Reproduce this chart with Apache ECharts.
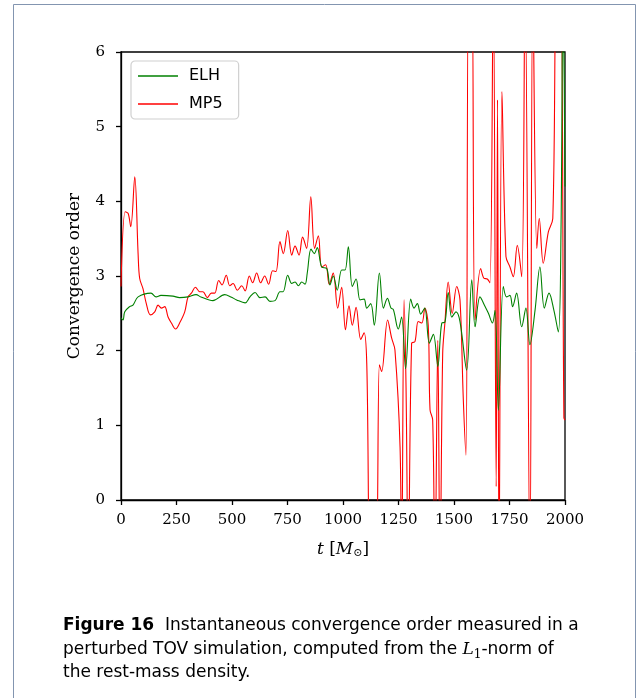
<!DOCTYPE html>
<html>
<head>
<meta charset="utf-8">
<script src="https://cdn.jsdelivr.net/npm/echarts@6/dist/echarts.min.js"></script>
<style>html,body{margin:0;padding:0;background:#fff}#c{width:638px;height:698px}</style>
</head>
<body>
<div id="c"></div>
<script>
// ---- data ----
const xTicks = [0, 250, 500, 750, 1000, 1250, 1500, 1750, 2000];
const yTicks = [0, 1, 2, 3, 4, 5, 6];
const seriesNames = ["ELH", "MP5"];

const elhT = [0, 9, 17, 39, 54, 77, 135, 158, 180, 234, 264, 302, 338, 360, 414, 467, 495, 521, 559, 581, 604, 626, 649, 671, 694, 716, 730, 751, 769, 784, 799, 814, 829, 839, 856, 871, 884, 904, 927, 941, 956, 974, 994, 1009, 1024, 1042, 1059, 1077, 1095, 1107, 1125, 1141, 1164, 1182, 1200, 1216, 1227, 1249, 1264, 1282, 1305, 1320, 1335, 1350, 1368, 1389, 1407, 1427, 1445, 1459, 1474, 1490, 1509, 1527, 1557, 1580, 1595, 1617, 1640, 1655, 1673, 1685, 1700, 1722, 1737, 1752, 1764, 1782, 1805, 1824, 1842, 1865, 1887, 1907, 1928, 1950, 1970, 1982, 1991, 2000];
const elhV = [2.44, 2.41, 2.52, 2.59, 2.61, 2.72, 2.77, 2.72, 2.74, 2.73, 2.71, 2.72, 2.75, 2.72, 2.67, 2.75, 2.72, 2.68, 2.64, 2.72, 2.78, 2.71, 2.72, 2.66, 2.67, 2.79, 2.79, 3.01, 2.90, 2.92, 2.87, 2.92, 2.89, 3.04, 3.36, 3.30, 3.38, 3.12, 3.10, 2.88, 3.00, 2.81, 3.08, 3.08, 3.39, 2.86, 2.96, 2.68, 2.69, 2.57, 2.63, 2.34, 3.04, 2.57, 2.70, 2.57, 2.55, 2.29, 2.45, 1.76, 2.69, 2.57, 2.63, 2.49, 2.57, 2.10, 2.22, 1.79, 2.37, 2.38, 2.78, 2.45, 2.52, 2.39, 1.74, 2.95, 2.32, 2.72, 2.59, 2.50, 2.37, 2.54, 1.20, 2.86, 2.72, 2.74, 2.59, 2.77, 2.32, 2.57, 2.08, 2.54, 3.12, 2.57, 2.77, 2.54, 2.25, 3.60, 7.00, 4.20];

const mp5T = [0, 19, 32, 44, 62, 77, 84, 99, 114, 132, 152, 167, 182, 197, 212, 227, 246, 264, 287, 302, 317, 335, 355, 369, 389, 407, 422, 440, 455, 474, 490, 505, 524, 544, 559, 578, 593, 611, 629, 647, 665, 683, 698, 716, 731, 751, 769, 784, 802, 818, 836, 855, 872, 889, 904, 922, 938, 956, 976, 994, 1011, 1027, 1042, 1059, 1080, 1095, 1107, 1125, 1147, 1164, 1174, 1201, 1219, 1234, 1257, 1264, 1275, 1284, 1294, 1309, 1324, 1339, 1355, 1369, 1384, 1392, 1404, 1414, 1427, 1437, 1449, 1459, 1474, 1492, 1512, 1527, 1542, 1554, 1566, 1580, 1595, 1620, 1635, 1650, 1662, 1677, 1690, 1696, 1703, 1716, 1734, 1752, 1767, 1785, 1805, 1820, 1842, 1855, 1873, 1884, 1902, 1925, 1945, 1963, 1980, 1995, 2000];
const mp5V = [2.86, 3.86, 3.84, 3.66, 4.33, 3.30, 2.97, 2.83, 2.63, 2.48, 2.52, 2.61, 2.57, 2.59, 2.45, 2.37, 2.29, 2.37, 2.52, 2.72, 2.77, 2.85, 2.79, 2.79, 2.71, 2.77, 2.77, 2.94, 2.88, 3.01, 2.87, 2.90, 2.81, 2.87, 2.80, 3.00, 2.91, 3.04, 2.91, 3.00, 2.89, 3.07, 3.06, 3.46, 3.30, 3.61, 3.28, 3.40, 3.28, 3.52, 3.37, 4.06, 3.37, 3.54, 3.12, 3.15, 2.89, 3.04, 2.57, 2.85, 2.28, 2.60, 2.34, 2.58, 2.15, 2.24, 1.83, -1.0, -1.0, 1.81, 1.72, 2.41, 2.17, 2.01, 0.71, -1.0, 2.68, 1.50, -1.0, 2.10, 2.12, 2.39, 2.37, 2.57, 2.34, 1.21, 1.07, -1.0, 2.14, -1.0, 1.96, 2.37, 2.92, 2.50, 2.86, 2.68, 1.34, 0.60, 7.00, 7.00, 2.41, 3.10, 2.97, 2.96, 2.91, 7.00, 0.18, 5.36, -1.0, 5.47, 3.26, 3.12, 2.99, 3.41, 2.99, 7.00, -1.0, 7.00, 3.37, 3.77, 3.17, 3.59, 3.77, 7.00, 7.00, 1.10, 1.07];

const toPairs = (ts, vs) => ts.map((t, i) => [t, vs[i]]);

const serif = "'DejaVu Serif', 'Liberation Serif', serif";
const sans = "'DejaVu Sans', sans-serif";

const chart = echarts.init(document.getElementById('c'), null, {renderer: 'canvas'});
chart.setOption({
  animation: false,
  backgroundColor: '#fff',
  grid: {left: 121, right: 73, top: 52, bottom: 198, show: true, borderColor: '#000', borderWidth: 1.3, backgroundColor: 'transparent'},
  xAxis: {
    type: 'value', min: xTicks[0], max: xTicks[xTicks.length - 1], interval: 250,
    axisLine: {lineStyle: {color: '#000', width: 1.3}},
    axisTick: {show: true, inside: false, length: 5, lineStyle: {color: '#000', width: 1.3}},
    axisLabel: {color: '#000', fontFamily: serif, fontSize: 15, margin: 13, formatter: v => String(v)},
    splitLine: {show: false},
    name: '{i|t} [{i|M}{s|⊙}]', nameLocation: 'middle', nameGap: 40,
    nameTextStyle: {color: '#000', fontFamily: serif, fontSize: 17,
      rich: {i: {fontStyle: 'italic', fontFamily: serif, fontSize: 17, color: '#000'},
             s: {fontFamily: serif, fontSize: 11, color: '#000', verticalAlign: 'bottom', padding: [8, 0, 0, 0]}}}
  },
  yAxis: {
    type: 'value', min: yTicks[0], max: yTicks[yTicks.length - 1], interval: 1,
    axisLine: {lineStyle: {color: '#000', width: 1.3}},
    axisTick: {show: true, inside: false, length: 5, lineStyle: {color: '#000', width: 1.3}},
    axisLabel: {color: '#000', fontFamily: serif, fontSize: 15, margin: 16, formatter: v => String(v)},
    splitLine: {show: false},
    name: 'Convergence order', nameLocation: 'middle', nameGap: 38, nameRotate: 90,
    nameTextStyle: {color: '#000', fontFamily: serif, fontSize: 17}
  },
  legend: {
    orient: 'vertical', left: 131, top: 61, padding: [7, 16, 7, 7],
    itemWidth: 40, itemHeight: 1.4, itemGap: 12, icon: 'rect',
    backgroundColor: '#fff', borderColor: '#d0d0d0', borderWidth: 1.2, borderRadius: 4,
    textStyle: {fontFamily: sans, fontSize: 16, color: '#000', padding: [0, 0, 0, 6]},
    data: seriesNames
  },
  series: [
    {name: seriesNames[0], type: 'line', data: toPairs(elhT, elhV), showSymbol: false, symbol: 'none',
     smooth: 0.35, clip: true, lineStyle: {color: '#008000', width: 1.1}, itemStyle: {color: '#008000'}, z: 3},
    {name: seriesNames[1], type: 'line', data: toPairs(mp5T, mp5V), showSymbol: false, symbol: 'none',
     smooth: 0.35, clip: true, lineStyle: {color: '#ff0000', width: 1.1}, itemStyle: {color: '#ff0000'}, z: 2}
  ],
  graphic: [
    {type: 'rect', shape: {x: 13.5, y: 4.5, width: 622, height: 700}, style: {fill: 'none', stroke: '#8395b0', lineWidth: 1}, silent: true},
    {type: 'text', left: 63, top: 614, style: {
      text: '{b|Figure 16}  Instantaneous convergence order measured in a\nperturbed TOV simulation, computed from the {i|L}{s|1}-norm of\nthe rest-mass density.',
      font: "17px 'DejaVu Sans', sans-serif", fill: '#000', lineHeight: 23.5,
      rich: {
        b: {fontWeight: 'bold', fontFamily: sans, fontSize: 17, fill: '#000', lineHeight: 23.5},
        i: {fontStyle: 'italic', fontFamily: serif, fontSize: 17, fill: '#000', lineHeight: 23.5},
        s: {fontFamily: serif, fontSize: 12, fill: '#000', verticalAlign: 'bottom', lineHeight: 23.5, padding: [6, 0, 0, 0]}
      }}}
  ]
});
</script>
</body>
</html>
